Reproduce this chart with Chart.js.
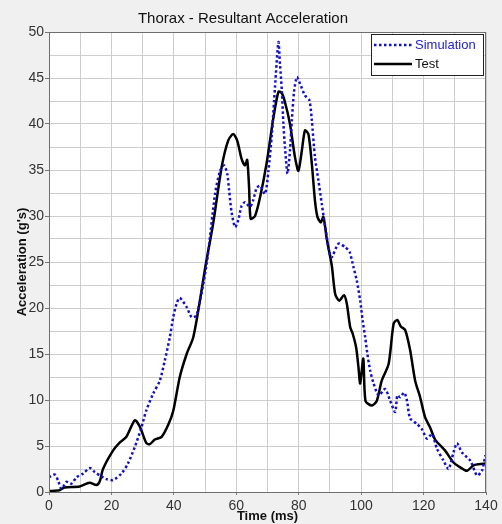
<!DOCTYPE html>
<html>
<head>
<meta charset="utf-8">
<script src="https://cdn.jsdelivr.net/npm/chart.js@4/dist/chart.umd.min.js"></script>
<style>
  html, body { margin: 0; padding: 0; background: #f0f0f0; }
  #wrap { width: 502px; height: 524px; }
</style>
</head>
<body>
<div id="wrap"><canvas id="accel-canvas" width="502" height="524"></canvas></div>
<script>
// values
var testTime = [0, 3.4, 5, 9.8, 13, 15.2, 16.3, 17.3, 20.5, 22.7, 24.8, 27.5, 29.1, 31.2, 32.3, 33.9, 36.1, 38.2, 39.8,
    41.9, 44.1, 46.2, 48.3, 50, 52.6, 55.3, 57.4, 59.0, 60.3, 61.7, 62.8, 63.5, 64.1, 64.6, 66, 67.6, 69.7, 71.9, 73.5,
    74.5, 75.5, 77.2, 78.8, 79.9, 81.0, 82.0, 83.1, 84.2, 85.2, 86.0, 87.1, 87.9, 89.0, 90.6, 91.7, 93.0, 94.5, 95.4,
    96.5, 97.3, 98.4, 99.1, 99.7, 100.7, 101.4, 103.4, 105.0, 106.6, 108.8, 110.4, 111.6, 112.7, 114.1, 115.7, 117.3,
    118.9, 120.5, 122.1, 123.7, 126.9, 129.6, 131.2, 133.9, 136.0, 139.8, 140];
var testAccel = [0.1, 0.2, 0.5, 0.6, 1.0, 0.75, 1.2, 2.5, 4.5, 5.4, 6.0, 7.8, 7.1, 5.3, 5.2, 5.7, 6.0, 7.3, 8.8,
    12.5, 15.0, 16.8, 20.7, 24.3, 29.2, 35.3, 38.2, 38.9, 38.2, 36.2, 35.5, 36.1, 33.1, 29.7, 30.0, 32.0, 35.7, 40.7, 43.5,
    43.4, 42.5, 40.0, 36.4, 34.9, 37.1, 39.3, 38.9, 35.7, 31.7, 29.9, 29.3, 29.9, 27.5, 24.6, 21.5, 20.8, 21.4, 20.5,
    17.9, 17.2, 15.7, 13.7, 11.8, 14.5, 9.9, 9.4, 9.9, 12.1, 13.9, 18.3, 18.7, 18.0, 17.6, 15.4, 12.1,
    10.3, 8.1, 7.0, 5.7, 4.5, 3.2, 2.8, 2.3, 2.9, 3.1, 3.2];

var simTime = [0, 1.8, 2.9, 4.0, 5.6, 7.2, 8.8, 10.9, 13.1, 14.7, 16.3, 18.4, 20.5, 23.2, 25.3, 27.5, 29.6, 31.2,
    33.4, 35.5, 37.1, 38.7, 39.8, 40.9, 41.9, 44.1, 45.7, 47.3, 50.5, 53.2, 54.8, 56.1, 57.1, 57.7, 58.5, 59.6, 60.6,
    61.7, 62.8, 64.4, 65.4, 66.5, 67.6, 69.2, 70.3, 71.4, 72.4, 73.5, 74.0, 74.6, 75.1, 75.6, 76.4, 77.2, 77.8, 78.5,
    79.4, 80.4, 82.0, 83.4, 84.2, 85.2, 86.3, 87.4, 88.5, 90.4, 92.8, 94.9, 96.3, 97.5, 98.6, 99.7, 100.5, 101.3, 102.0,
    102.9, 103.9, 105.6, 107.7, 109.3, 110.9, 111.6, 112.5, 113.8, 114.7, 115.7, 117.9, 119.5, 121.1, 122.7, 124.3,
    126.4, 128.0, 129.6, 130.7, 132.3, 135, 137.1, 138.7, 139.8];
var simAccel = [1.6, 1.9, 1.25, 0.35, 1.1, 0.9, 1.6, 2.0, 2.6, 2.15, 1.8, 1.4, 1.3, 2.0, 3.1, 4.9, 7.0, 8.9,
    10.7, 12.1, 14.3, 16.8, 19.0, 20.5, 21.1, 20.1, 19.0, 19.2, 24.8, 32.4, 34.9, 35.5, 34.6, 32.8, 30.4, 28.8, 29.5,
    31.1, 31.5, 31.0, 31.7, 33.0, 33.3, 32.4, 34.9, 38.9, 44.0, 48.9, 46.5, 43.6, 40.0, 37.5, 34.6, 37.1, 40.4, 43.5,
    45.1, 44.4, 43.1, 42.6, 40.4, 36.4, 33.9, 31.3, 28.8, 25.5, 27.0, 26.6, 26.1, 24.5, 23.0, 20.8, 18.6, 16.8, 15.0,
    13.2, 11.9, 10.5, 11.2, 9.9, 8.7, 10.5, 10.3, 10.8, 9.9, 8.0, 7.4, 6.8, 5.8, 6.3, 4.7,
    3.4, 2.5, 4.3, 5.3, 4.3, 3.4, 1.8, 2.3, 4.0];

var xTicks = [0, 20, 40, 60, 80, 100, 120, 140];
var yTicks = [0, 5, 10, 15, 20, 25, 30, 35, 40, 45, 50];

var seriesNames = ['Simulation', 'Test'];
var seriesColors = ['#1010c8', '#000000'];

function toPoints(xs, ys) {
    var pts = [];
    for (var i = 0; i < xs.length; i++) {
        pts.push({ x: xs[i], y: ys[i] });
    }
    return pts;
}

// grey page, white plot area, box round it
var frame = {
    id: 'frame',
    beforeDraw: function (chart) {
        var ctx = chart.ctx, a = chart.chartArea;
        ctx.save();
        ctx.fillStyle = '#f0f0f0';
        ctx.fillRect(0, 0, chart.width, chart.height);
        ctx.fillStyle = '#ffffff';
        ctx.fillRect(a.left, a.top, a.right - a.left, a.bottom - a.top);
        ctx.restore();
    },
    afterDraw: function (chart) {
        var ctx = chart.ctx, a = chart.chartArea;
        ctx.save();
        ctx.strokeStyle = '#6e6e6e';
        ctx.lineWidth = 1;
        ctx.strokeRect(a.left + 0.5, a.top + 0.5, a.right - a.left - 1, a.bottom - a.top);

        // legend box, top right inside the plot
        var w = 113, h = 42;
        var x0 = a.right - w - 2, y0 = a.top + 2;
        ctx.fillStyle = '#ffffff';
        ctx.fillRect(x0, y0, w, h);
        ctx.strokeStyle = '#222';
        ctx.strokeRect(x0 + 0.5, y0 + 0.5, w - 1, h - 1);
        ctx.font = '13px "Liberation Sans", Arial, sans-serif';
        ctx.textBaseline = 'middle';
        for (var i = 0; i < seriesNames.length; i++) {
            var ly = y0 + 11 + i * 19;
            ctx.beginPath();
            ctx.setLineDash(i === 0 ? [2.5, 2.5] : []);
            ctx.lineWidth = 2.5;
            ctx.strokeStyle = seriesColors[i];
            ctx.moveTo(x0 + 3, ly);
            ctx.lineTo(x0 + 41, ly);
            ctx.stroke();
            ctx.setLineDash([]);
            ctx.fillStyle = i === 0 ? '#2222cc' : '#111';
            ctx.fillText(seriesNames[i], x0 + 44, ly);
        }
        ctx.restore();
    }
};

var config = {
    type: 'line',
    data: {
        datasets: [{
            label: seriesNames[0],
            data: toPoints(simTime, simAccel),
            borderColor: seriesColors[0],
            borderWidth: 2.5,
            borderDash: [2.5, 2.5],
            pointRadius: 0,
            tension: 0.25,
            fill: false
        }, {
            label: seriesNames[1],
            data: toPoints(testTime, testAccel),
            borderColor: seriesColors[1],
            borderWidth: 2.5,
            pointRadius: 0,
            tension: 0.25,
            fill: false
        }]
    },
    options: {
        responsive: false,
        animation: false,
        layout: { padding: { left: 0, right: 16, top: 0, bottom: 0 } },
        plugins: {
            legend: { display: false },
            tooltip: { enabled: false },
            title: {
                display: true,
                text: 'Thorax - Resultant Acceleration',
                color: '#111',
                font: { family: '"Liberation Sans", Arial, sans-serif', size: 15, weight: 'normal' },
                padding: { top: 10, bottom: 4 }
            }
        },
        scales: {
            x: {
                type: 'linear',
                min: 0,
                max: 140,
                afterFit: function (scale) { scale.height = 32; },
                afterBuildTicks: function (scale) {
                    var t = [];
                    for (var v = 0; v <= 140; v += 10) t.push({ value: v });
                    scale.ticks = t;
                },
                ticks: {
                    color: '#333',
                    padding: 3,
                    maxRotation: 0,
                    autoSkip: false,
                    font: { family: '"Liberation Sans", Arial, sans-serif', size: 14 },
                    callback: function (v) { return xTicks.indexOf(v) >= 0 ? String(v) : ''; }
                },
                grid: {
                    color: '#cdcdcd',
                    tickLength: 3,
                    tickColor: function (c) { return c.tick && c.tick.value % 20 === 0 ? '#777' : 'rgba(0,0,0,0)'; }
                },
                border: { color: '#6e6e6e' },
                title: {
                    display: true,
                    text: 'Time (ms)',
                    color: '#111',
                    padding: { top: 0, bottom: 0 },
                    font: { family: '"Liberation Sans", Arial, sans-serif', size: 13, weight: 'bold' }
                }
            },
            y: {
                type: 'linear',
                min: 0,
                max: 50,
                afterFit: function (scale) { scale.width = 49; },
                afterBuildTicks: function (scale) {
                    var t = [];
                    for (var v = 0; v <= 50; v += 2.5) t.push({ value: v });
                    scale.ticks = t;
                },
                ticks: {
                    color: '#333',
                    padding: 1,
                    autoSkip: false,
                    font: { family: '"Liberation Sans", Arial, sans-serif', size: 14 },
                    callback: function (v) { return yTicks.indexOf(v) >= 0 ? String(v) : ''; }
                },
                grid: {
                    color: '#cdcdcd',
                    tickLength: 4,
                    tickColor: function (c) { return c.tick && c.tick.value % 5 === 0 ? '#777' : 'rgba(0,0,0,0)'; }
                },
                border: { color: '#6e6e6e' },
                title: {
                    display: true,
                    text: "Acceleration (g's)",
                    color: '#111',
                    padding: { top: 15, bottom: 0 },
                    font: { family: '"Liberation Sans", Arial, sans-serif', size: 13, weight: 'bold' }
                }
            }
        }
    },
    plugins: [frame]
};

var ctx = document.getElementById('accel-canvas').getContext('2d');
window.accelChart = new Chart(ctx, config);
</script>
</body>
</html>
